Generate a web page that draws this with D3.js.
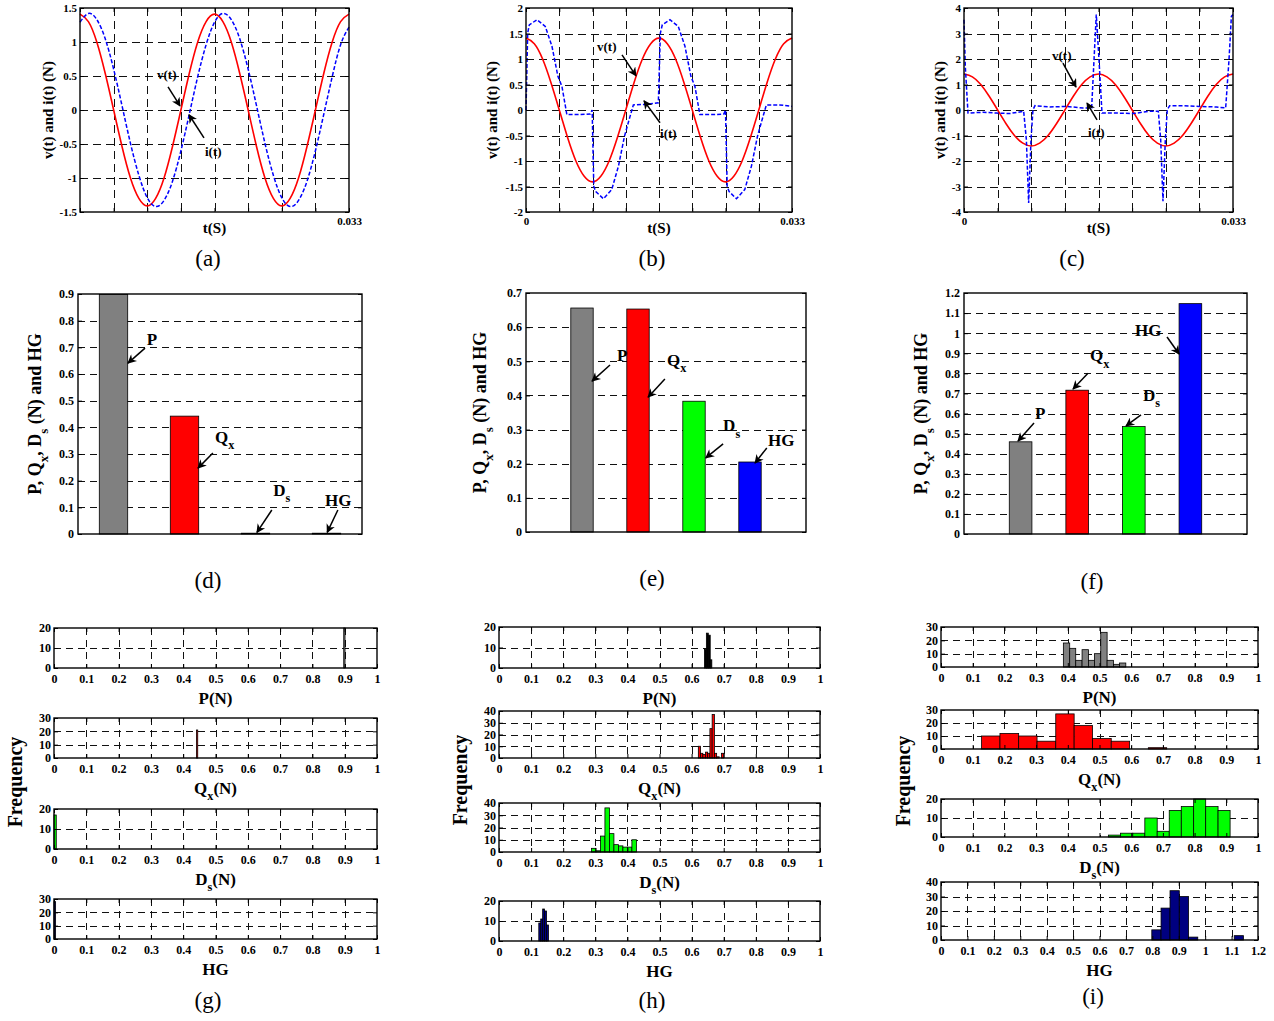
<!DOCTYPE html>
<html>
<head>
<meta charset="utf-8">
<script src="https://cdn.jsdelivr.net/npm/d3@7"></script>
<style>
body { margin: 0; background: #fff; }
text { white-space: pre; }
</style>
</head>
<body>
<script>
// ---- data ----

// time samples (ms) for the sine-like curves, 0 .. 33 ms
const tSamp = [0,1.03,2.06,3.09,4.13,5.16,6.19,7.22,8.25,9.28,10.31,11.34,12.38,13.41,14.44,15.47,16.5,
  17.53,18.56,19.59,20.63,21.66,22.69,23.72,24.75,25.78,26.81,27.84,28.88,29.91,30.94,31.97,33];
// v(t), same in (a), (b), (c)
const vWave = [1.41,1.30,1.00,0.54,0,-0.54,-1.00,-1.30,-1.41,-1.30,-1.00,-0.54,0,0.54,1.00,1.30,1.41,
  1.30,1.00,0.54,0,-0.54,-1.00,-1.30,-1.41,-1.30,-1.00,-0.54,0,0.54,1.00,1.30,1.41];
// i(t) in (a), on the same samples
const iA = [1.29,1.42,1.33,1.05,0.60,0.06,-0.49,-0.96,-1.29,-1.42,-1.33,-1.05,-0.60,-0.06,0.49,0.96,1.29,
  1.42,1.33,1.05,0.60,0.06,-0.49,-0.96,-1.29,-1.42,-1.33,-1.05,-0.60,-0.06,0.49,0.96,1.22];
// i(t) in (b)
const iBt = [0,0.21,0.41,1.36,2.39,3.22,3.96,4.46,5.07,6.72,7.96,8.21,8.41,8.66,9.61,10.64,11.47,12.21,12.79,13.32,
  14.97,16.42,16.67,16.91,17.86,18.89,19.72,20.46,20.96,21.57,23.22,24.54,24.75,24.96,25.2,26.11,27.14,27.97,28.71,29.29,
  29.82,31.47,33];
const iBv = [0,1.51,1.67,1.77,1.64,1.25,0.66,0.46,-0.09,-0.09,-0.08,0,-1.5,-1.6,-1.74,-1.56,-1.1,-0.52,-0.19,0.10,
  0.11,0.14,1.51,1.67,1.77,1.64,1.25,0.66,0.46,-0.09,-0.09,-0.08,0,-1.5,-1.6,-1.74,-1.56,-1.1,-0.52,-0.19,
  0.10,0.10,0.07];
// i(t) in (c)
const iCt = [0,0.16,0.49,2.33,3.97,5.6,7.32,7.65,7.93,8.22,8.46,8.71,10.51,12.55,14.6,15.66,15.95,16.23,16.56,16.93,
  18.69,20.73,22.78,23.84,24.13,24.41,24.7,24.94,25.23,26.87,28.91,30.96,32.1,32.51,32.8,33];
const iCv = [3.54,1.71,-0.12,-0.09,-0.12,-0.14,-0.05,-1.16,-3.65,-1.16,0.01,0.17,0.12,0.14,0.08,0.08,1.97,3.74,1.97,-0.12,
  -0.12,-0.14,-0.05,-0.05,-1.16,-3.58,-1.16,0.01,0.17,0.17,0.14,0.12,0.08,1.97,3.67,3.74];

const tGrid = [0,4.125,8.25,12.375,16.5,20.625,24.75,28.875,33];
const tLabA = ["","","","","","","","","0.033"];
const tLabBC = ["0","","","","","","","","0.033"];
const yTkA = [-1.5,-1,-0.5,0,0.5,1,1.5];
const yLbA = ["-1.5","-1","-0.5","0","0.5","1","1.5"];
const yTkB = [-2,-1.5,-1,-0.5,0,0.5,1,1.5,2];
const yLbB = ["-2","-1.5","-1","-0.5","0","0.5","1","1.5","2"];
const yTkC = [-4,-3,-2,-1,0,1,2,3,4];
const yLbC = ["-4","-3","-2","-1","0","1","2","3","4"];

// bar charts: P, Qx, Ds, HG
const barD = [0.898, 0.442, 0.003, 0.003];
const barE = [0.656, 0.653, 0.383, 0.205];
const barF = [0.459, 0.716, 0.535, 1.147];
const yTkD = [0,0.1,0.2,0.3,0.4,0.5,0.6,0.7,0.8,0.9];
const yLbD = ["0","0.1","0.2","0.3","0.4","0.5","0.6","0.7","0.8","0.9"];
const yTkE = [0,0.1,0.2,0.3,0.4,0.5,0.6,0.7];
const yLbE = ["0","0.1","0.2","0.3","0.4","0.5","0.6","0.7"];
const yTkF = [0,0.1,0.2,0.3,0.4,0.5,0.6,0.7,0.8,0.9,1,1.1,1.2];
const yLbF = ["0","0.1","0.2","0.3","0.4","0.5","0.6","0.7","0.8","0.9","1","1.1","1.2"];

// histograms: bin edges and counts
const gP_e = [0.897,0.901], gP_n = [20];
const gQ_e = [0.441,0.445], gQ_n = [21];
const gD_e = [0.000,0.007], gD_n = [17];
const gH_e = [0.000,0.005], gH_n = [28];

const hP_e = [0.640,0.646,0.652,0.658,0.663], hP_n = [9,17,16,4];
const hQ_e = [0.621,0.628,0.635,0.643,0.650,0.657,0.664,0.671,0.678,0.686,0.693,0.700], hQ_n = [10,4,3,5,4,25,37,4,1,0,4];
const hD_e = [0.288,0.302,0.316,0.330,0.344,0.358,0.372,0.386,0.400,0.414,0.428], hD_n = [3,1,13,36,15,6,5,4,4,10];
const hH_e = [0.124,0.130,0.136,0.142,0.148,0.154], hH_n = [9,11,16,15,8];

const iP_e = [0.386,0.406,0.425,0.445,0.465,0.484,0.504,0.524,0.544,0.563,0.583], iP_n = [18,14,5,13,5,10,26,5,2,3];
const iQ_e = [0.128,0.186,0.245,0.303,0.362,0.420,0.478,0.537,0.595,0.654,0.712], iQ_n = [10,12,10,6,27,18,8,6,0,1];
const iD_e = [0.528,0.566,0.605,0.643,0.682,0.720,0.758,0.797,0.835,0.874,0.912], iD_n = [1,2,2,10,3,14,16,20,16,14];
const iH_e = [0.798,0.833,0.867,0.902,0.937,0.972,1.006,1.041,1.076,1.110,1.145], iH_n = [7,22,34,30,2,0,0,0,0,3];

const hx1 = [0,0.1,0.2,0.3,0.4,0.5,0.6,0.7,0.8,0.9,1];
const hx1L = ["0","0.1","0.2","0.3","0.4","0.5","0.6","0.7","0.8","0.9","1"];
const hx12 = [0,0.1,0.2,0.3,0.4,0.5,0.6,0.7,0.8,0.9,1,1.1,1.2];
const hx12L = ["0","0.1","0.2","0.3","0.4","0.5","0.6","0.7","0.8","0.9","1","1.1","1.2"];
const hy20 = [0,10,20], hy30 = [0,10,20,30], hy40 = [0,10,20,30,40];

const barColors = ["#808080", "#ff0000", "#00ff00", "#0000ff"];
const navy = "#000080";

// ---- drawing ----
const FONT = '"Liberation Serif","Times New Roman",serif';
const svg = d3.select("body").append("svg").attr("width", 1274).attr("height", 1021);

svg.append("defs").append("marker")
  .attr("id", "ah").attr("viewBox", "0 0 10 10").attr("refX", 9).attr("refY", 5)
  .attr("markerWidth", 11).attr("markerHeight", 9).attr("markerUnits", "userSpaceOnUse")
  .attr("orient", "auto")
  .append("path").attr("d", "M0,0L10,5L0,10L3,5Z").attr("fill", "#000");

// text with "_x" parts as subscripts
function addText(g, x, y, parts, fs, anchor, weight) {
  const t = g.append("text").attr("x", x).attr("y", y)
    .attr("font-family", FONT).attr("font-size", fs)
    .attr("font-weight", weight || "bold").attr("text-anchor", anchor || "start");
  let low = false;
  parts.forEach(p => {
    const sub = p[0] === "_";
    const ts = t.append("tspan").text(sub ? p.slice(1) : p);
    if (sub) {
      ts.attr("font-size", fs * 0.72);
      if (!low) { ts.attr("dy", fs * 0.38); low = true; }
    } else if (low) { ts.attr("dy", -fs * 0.38); low = false; }
  });
  return t;
}

function arrow(g, x1, y1, x2, y2) {
  g.append("line").attr("x1", x1).attr("y1", y1).attr("x2", x2).attr("y2", y2)
    .attr("stroke", "#000").attr("stroke-width", 1.5).attr("marker-end", "url(#ah)");
}

function grid(g, x, y, l, r, t, b, xs, ys, dash) {
  g.append("g").selectAll("line").data(ys.filter(v => y(v) > t + 1 && y(v) < b - 1)).join("line")
    .attr("x1", l).attr("x2", r).attr("y1", d => Math.round(y(d)) + 0.5).attr("y2", d => Math.round(y(d)) + 0.5)
    .attr("stroke", "#111").attr("stroke-width", 1).attr("stroke-dasharray", dash);
  if (xs) {
    g.append("g").selectAll("line").data(xs.filter(v => x(v) > l + 1 && x(v) < r - 1)).join("line")
      .attr("y1", t).attr("y2", b).attr("x1", d => Math.round(x(d)) + 0.5).attr("x2", d => Math.round(x(d)) + 0.5)
      .attr("stroke", "#111").attr("stroke-width", 1).attr("stroke-dasharray", dash);
  }
}

function styleAxis(sel, fs) {
  sel.attr("font-family", FONT).attr("font-size", fs).attr("font-weight", "bold");
  sel.select(".domain").remove();
  sel.selectAll("line").attr("stroke", "#000");
  sel.selectAll("text").attr("fill", "#000");
}

function axes(g, x, y, l, r, t, b, xs, xl, ys, yl, fs, xpad, ypad) {
  const tk = 4;
  g.append("g").attr("transform", `translate(${l},0)`)
    .call(d3.axisLeft(y).tickValues(ys).tickFormat((d, i) => yl[i]).tickSizeInner(-tk).tickSizeOuter(0).tickPadding(ypad))
    .call(styleAxis, fs);
  g.append("g").attr("transform", `translate(${r},0)`)
    .call(d3.axisRight(y).tickValues(ys).tickFormat("").tickSizeInner(-tk).tickSizeOuter(0))
    .call(styleAxis, fs);
  if (xs) {
    g.append("g").attr("transform", `translate(0,${b})`)
      .call(d3.axisBottom(x).tickValues(xs).tickFormat((d, i) => xl[i]).tickSizeInner(-tk).tickSizeOuter(0).tickPadding(xpad))
      .call(styleAxis, fs);
    g.append("g").attr("transform", `translate(0,${t})`)
      .call(d3.axisTop(x).tickValues(xs).tickFormat("").tickSizeInner(-tk).tickSizeOuter(0))
      .call(styleAxis, fs);
  }
  g.append("rect").attr("x", l).attr("y", t).attr("width", r - l).attr("height", b - t)
    .attr("fill", "none").attr("stroke", "#000").attr("stroke-width", 1.4);
}

// top row: v(t) and i(t)
function wavePanel(p) {
  const x = d3.scaleLinear().domain([0, 33]).range([p.l, p.r]);
  const y = d3.scaleLinear().domain([-p.ym, p.ym]).range([p.b, p.t]);
  const g = svg.append("g");
  grid(g, x, y, p.l, p.r, p.t, p.b, tGrid, p.yTk, "8,5");
  g.append("path").datum(d3.zip(tSamp, vWave))
    .attr("d", d3.line().x(d => x(d[0])).y(d => y(d[1])).curve(d3.curveNatural))
    .attr("fill", "none").attr("stroke", "#ff0000").attr("stroke-width", 1.6);
  g.append("path").datum(d3.zip(p.it, p.iv))
    .attr("d", d3.line().x(d => x(d[0])).y(d => y(d[1])).curve(p.curve))
    .attr("fill", "none").attr("stroke", "#0000ff").attr("stroke-width", 1.5)
    .attr("stroke-dasharray", "4,2");
  axes(g, x, y, p.l, p.r, p.t, p.b, tGrid, p.xLb, p.yTk, p.yLb, 11, 5, 3);
  addText(g, (p.l + p.r) / 2, 233, ["t(S)"], 15, "middle");
  addText(g, 0, 0, ["v(t) and i(t) (N)"], 15, "middle")
    .attr("transform", `translate(${p.yx},${(p.t + p.b) / 2}) rotate(-90)`);
  addText(g, p.tagX, 266, [p.tag], 23, "middle", "normal");
  p.notes.forEach(n => {
    addText(g, x(n.tx), y(n.ty), [n.s], 13, "start");
    arrow(g, x(n.ax), y(n.ay), x(n.hx), y(n.hy));
  });
}

wavePanel({ l: 80, r: 349, t: 8, b: 212, ym: 1.5, yTk: yTkA, yLb: yLbA, xLb: tLabA, yx: 53,
  it: tSamp, iv: iA, curve: d3.curveNatural, tag: "(a)", tagX: 208,
  notes: [
    { s: "v(t)", tx: 9.45, ty: 0.46, ax: 10.8, ay: 0.34, hx: 12.27, hy: 0.06 },
    { s: "i(t)", tx: 15.33, ty: -0.68, ax: 15.21, ay: -0.41, hx: 13.37, hy: -0.07 }
  ] });
wavePanel({ l: 526, r: 792, t: 8, b: 212, ym: 2, yTk: yTkB, yLb: yLbB, xLb: tLabBC, yx: 497,
  it: iBt, iv: iBv, curve: d3.curveLinear, tag: "(b)", tagX: 652,
  notes: [
    { s: "v(t)", tx: 8.81, ty: 1.15, ax: 11.91, ay: 1.08, hx: 13.65, hy: 0.67 },
    { s: "i(t)", tx: 16.63, ty: -0.55, ax: 16.63, ay: -0.25, hx: 14.64, hy: 0.18 }
  ] });
wavePanel({ l: 964, r: 1233, t: 8, b: 212, ym: 4, yTk: yTkC, yLb: yLbC, xLb: tLabBC, yx: 945,
  it: iCt, iv: iCv, curve: d3.curveLinear, tag: "(c)", tagX: 1072,
  notes: [
    { s: "v(t)", tx: 10.8, ty: 1.95, ax: 12.14, ay: 1.84, hx: 13.74, hy: 0.9 },
    { s: "i(t)", tx: 15.21, ty: -1.05, ax: 16.32, ay: -0.39, hx: 15.09, hy: 0.27 }
  ] });

// middle row: P, Qx, Ds, HG bars
const barLabels = [["P"], ["Q", "_x"], ["D", "_s"], ["HG"]];
function barPanel(p) {
  const x = d3.scaleLinear().domain(p.xd).range([p.l, p.r]);
  const y = d3.scaleLinear().domain([0, p.ym]).range([p.b, p.t]);
  const g = svg.append("g");
  grid(g, x, y, p.l, p.r, p.t, p.b, null, p.yTk, "7,5");
  g.append("g").selectAll("rect").data(p.vals).join("rect")
    .attr("x", (d, i) => x(i + 1 - 0.2)).attr("width", (d, i) => x(i + 1.2) - x(i + 0.8))
    .attr("y", d => y(d)).attr("height", d => p.b - y(d))
    .attr("fill", (d, i) => barColors[i]).attr("stroke", "#000").attr("stroke-width", 0.8);
  axes(g, x, y, p.l, p.r, p.t, p.b, null, null, p.yTk, p.yLb, 12, 0, 4);
  addText(g, 0, 0, ["P, Q", "_x", ", D", "_s", " (N) and HG"], 18, "middle")
    .attr("transform", `translate(${p.yx},${(p.t + p.b) / 2}) rotate(-90)`);
  addText(g, p.tagX, p.tagY, [p.tag], 23, "middle", "normal");
  p.notes.forEach((n, i) => {
    addText(g, x(n.tx), y(n.ty) + 6, barLabels[i], 17, "start");
    arrow(g, x(n.ax), y(n.ay), x(n.hx), y(n.hy));
  });
}

barPanel({ l: 78, r: 362, t: 294, b: 534, ym: 0.9, xd: [0.5, 4.5], vals: barD, yTk: yTkD, yLb: yLbD,
  yx: 41, tag: "(d)", tagX: 208, tagY: 588,
  notes: [
    { tx: 1.47, ty: 0.73, ax: 1.444, ay: 0.697, hx: 1.204, hy: 0.641 },
    { tx: 2.43, ty: 0.364, ax: 2.40, ay: 0.304, hx: 2.19, hy: 0.247 },
    { tx: 3.25, ty: 0.165, ax: 3.23, ay: 0.09, hx: 3.02, hy: 0.006 },
    { tx: 3.98, ty: 0.127, ax: 4.16, ay: 0.09, hx: 4.01, hy: 0.006 }
  ] });
barPanel({ l: 526, r: 806, t: 293, b: 532, ym: 0.7, xd: [0, 5], vals: barE, yTk: yTkE, yLb: yLbE,
  yx: 486, tag: "(e)", tagX: 652, tagY: 586,
  notes: [
    { tx: 1.625, ty: 0.518, ax: 1.5, ay: 0.489, hx: 1.179, hy: 0.442 },
    { tx: 2.52, ty: 0.504, ax: 2.48, ay: 0.448, hx: 2.18, hy: 0.395 },
    { tx: 3.52, ty: 0.313, ax: 3.52, ay: 0.258, hx: 3.21, hy: 0.217 },
    { tx: 4.32, ty: 0.269, ax: 4.30, ay: 0.246, hx: 4.09, hy: 0.202 }
  ] });
barPanel({ l: 964, r: 1247, t: 293, b: 534, ym: 1.2, xd: [0, 5], vals: barF, yTk: yTkF, yLb: yLbF,
  yx: 927, tag: "(f)", tagX: 1092, tagY: 589,
  notes: [
    { tx: 1.254, ty: 0.603, ax: 1.237, ay: 0.553, hx: 0.954, hy: 0.463 },
    { tx: 2.226, ty: 0.891, ax: 2.19, ay: 0.80, hx: 1.926, hy: 0.722 },
    { tx: 3.163, ty: 0.692, ax: 3.127, ay: 0.593, hx: 2.862, hy: 0.538 },
    { tx: 3.02, ty: 1.016, ax: 3.587, ay: 0.981, hx: 3.80, hy: 0.896 }
  ] });

// bottom row: histograms
function histPanel(l, r, t, b, xTk, xLb, yTk, edges, counts, color, title) {
  const x = d3.scaleLinear().domain([0, xTk[xTk.length - 1]]).range([l, r]);
  const ymax = yTk[yTk.length - 1];
  const y = d3.scaleLinear().domain([0, ymax]).range([b, t]);
  const g = svg.append("g");
  grid(g, x, y, l, r, t, b, xTk, yTk, "7,5");
  const bins = counts.map((n, i) => ({ x0: edges[i], x1: edges[i + 1], n: Math.min(n, ymax) }))
    .filter(d => d.n > 0);
  g.append("g").selectAll("rect").data(bins).join("rect")
    .attr("x", d => x(d.x0)).attr("width", d => x(d.x1) - x(d.x0))
    .attr("y", d => y(d.n)).attr("height", d => b - y(d.n))
    .attr("fill", color).attr("stroke", "#000").attr("stroke-width", 0.8);
  axes(g, x, y, l, r, t, b, xTk, xLb, yTk, yTk.map(String), 12, 6, 3);
  addText(g, (l + r) / 2, b + 36, title, 17, "middle");
}

const tP = ["P(N)"], tQ = ["Q", "_x", "(N)"], tD = ["D", "_s", "(N)"], tH = ["HG"];

histPanel(54, 377, 628, 668, hx1, hx1L, hy20, gP_e, gP_n, barColors[0], tP);
histPanel(54, 377, 718, 758, hx1, hx1L, hy30, gQ_e, gQ_n, barColors[1], tQ);
histPanel(54, 377, 809, 849, hx1, hx1L, hy20, gD_e, gD_n, barColors[2], tD);
histPanel(54, 377, 899, 939, hx1, hx1L, hy30, gH_e, gH_n, navy, tH);

histPanel(499, 820, 627, 668, hx1, hx1L, hy20, hP_e, hP_n, "#000000", tP);
histPanel(499, 820, 711, 758, hx1, hx1L, hy40, hQ_e, hQ_n, barColors[1], tQ);
histPanel(499, 820, 803, 852, hx1, hx1L, hy40, hD_e, hD_n, barColors[2], tD);
histPanel(499, 820, 901, 941, hx1, hx1L, hy20, hH_e, hH_n, navy, tH);

histPanel(941, 1258, 627, 667, hx1, hx1L, hy30, iP_e, iP_n, barColors[0], tP);
histPanel(941, 1258, 710, 749, hx1, hx1L, hy30, iQ_e, iQ_n, barColors[1], tQ);
histPanel(941, 1258, 799, 837, hx1, hx1L, hy20, iD_e, iD_n, barColors[2], tD);
histPanel(941, 1258, 882, 940, hx12, hx12L, hy40, iH_e, iH_n, navy, tH);

[[22, 782, 208, 1008, "(g)"], [467, 780, 652, 1008, "(h)"], [910, 781, 1093, 1004, "(i)"]].forEach(c => {
  addText(svg, 0, 0, ["Frequency"], 20, "middle").attr("transform", `translate(${c[0]},${c[1]}) rotate(-90)`);
  addText(svg, c[2], c[3], [c[4]], 23, "middle", "normal");
});
</script>
</body>
</html>
